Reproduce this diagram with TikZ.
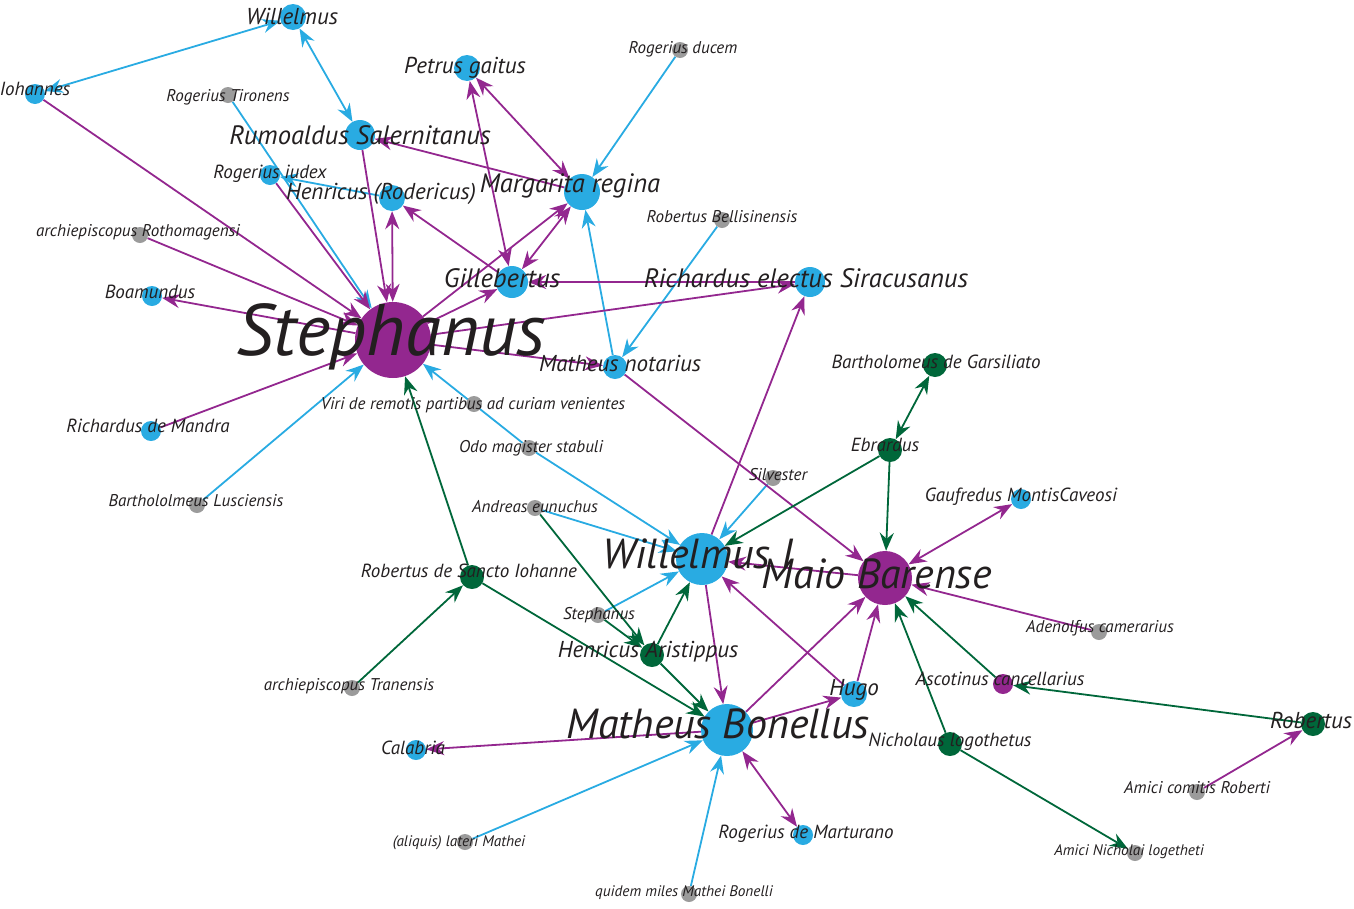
\documentclass[tikz,border=0pt]{standalone}
\usepackage{fontspec}
\setmainfont{PT Sans}
\usetikzlibrary{arrows.meta}
\definecolor{pblue}{HTML}{29ABE2}
\definecolor{ppurple}{HTML}{93278F}
\definecolor{pgreen}{HTML}{00673A}
\definecolor{pgrey}{HTML}{9B9B9B}
\definecolor{ink}{HTML}{231F20}
\pgfdeclarelayer{edges}
\pgfsetlayers{edges,main}

\begin{document}
\begin{tikzpicture}[x=1pt,y=-1pt,
	>={Stealth[length=18pt,width=14pt,inset=6pt]},
	pers/.style={circle,inner sep=0pt,minimum size=#1},
	bn/.style={pers=#1,fill=pblue},
	pn/.style={pers=#1,fill=ppurple},
	gn/.style={pers=#1,fill=pgreen},
	an/.style={pers=16pt,fill=pgrey},
	be/.style={pblue,line width=1.8pt},
	pe/.style={ppurple,line width=1.8pt},
	ge/.style={pgreen,line width=1.8pt},
	txt/.style={anchor=base,inner sep=0pt,text=ink},
	sA/.style={txt,font=\itshape\fontsize{73}{73}\selectfont},
	sB/.style={txt,font=\itshape\fontsize{42}{42}\selectfont},
	sC/.style={txt,font=\itshape\fontsize{26.6}{26.6}\selectfont},
	sD/.style={txt,font=\itshape\fontsize{23}{23}\selectfont},
	sE/.style={txt,font=\itshape\fontsize{19}{19}\selectfont},
	sF/.style={txt,font=\itshape\fontsize{17}{17}\selectfont},
	sG/.style={txt,font=\itshape\fontsize{15.3}{15.3}\selectfont}]
	\useasboundingbox (0,0) rectangle (1354,908);

	% persons
	\node[bn=26pt] (wil) at (293,17) {};
	\node[bn=20pt] (ioh) at (35,94) {};
	\node[an] (rtir) at (228,95) {};
	\node[bn=26pt] (pet) at (467,68) {};
	\node[an] (rduc) at (680,50) {};
	\node[bn=30pt] (rum) at (360,135) {};
	\node[bn=36pt] (mar) at (582,192) {};
	\node[bn=20pt] (riud) at (270,175) {};
	\node[bn=26pt] (henr) at (392,198) {};
	\node[an] (rbel) at (722,220) {};
	\node[an] (arot) at (140,235) {};
	\node[bn=32pt] (gil) at (512,282) {};
	\node[bn=30pt] (rsir) at (810,282) {};
	\node[bn=20pt] (boa) at (152,296) {};
	\node[pn=76pt] (ste) at (393,340) {};
	\node[bn=24pt] (mnot) at (615,367) {};
	\node[gn=24pt] (bgar) at (935,365) {};
	\node[an] (viri) at (474,404) {};
	\node[bn=20pt] (rman) at (151,431) {};
	\node[an] (odo) at (529,448) {};
	\node[gn=24pt] (ebr) at (890,450) {};
	\node[an] (sil) at (773,478) {};
	\node[bn=20pt] (gau) at (1021,499) {};
	\node[an] (blus) at (197,505) {};
	\node[an] (and) at (535,508) {};
	\node[bn=52pt] (wi) at (702,559) {};
	\node[pn=54pt] (mai) at (885,578) {};
	\node[gn=24pt] (rsio) at (472,577) {};
	\node[an] (stg) at (598,615) {};
	\node[an] (ade) at (1099,632) {};
	\node[gn=24pt] (hari) at (652,655) {};
	\node[an] (atra) at (352,688) {};
	\node[pn=20pt] (asc) at (1003,684) {};
	\node[bn=26pt] (hug) at (854,694) {};
	\node[gn=24pt] (rob) at (1313,724) {};
	\node[bn=52pt] (mbo) at (727,730) {};
	\node[bn=20pt] (cal) at (416,750) {};
	\node[gn=24pt] (nic) at (950,744) {};
	\node[an] (acr) at (1197,792) {};
	\node[bn=20pt] (rmar) at (803,835) {};
	\node[an] (ali) at (465,842) {};
	\node[an] (ani) at (1135,853) {};
	\node[an] (qui) at (689,894) {};

	\begin{pgfonlayer}{edges}
	\draw[be,<->] (wil) -- (ioh);
	\draw[be,<->] (wil) -- (rum);
	\draw[be,->] (rtir) -- (ste);
	\draw[be,->] (henr) -- (riud);
	\draw[be,->] (rduc) -- (mar);
	\draw[be,->] (mnot) -- (mar);
	\draw[be,->] (rbel) -- (mnot);
	\draw[be,->] (odo) -- (ste);
	\draw[be,->] (odo) -- (wi);
	\draw[be,->] (sil) -- (wi);
	\draw[be,->] (and) -- (wi);
	\draw[be,->] (stg) -- (wi);
	\draw[be,->] (blus) -- (ste);
	\draw[be,->] (ali) -- (mbo);
	\draw[be,->] (qui) -- (mbo);

	\draw[pe,->] (ioh) -- (ste);
	\draw[pe,->] (arot) -- (ste);
	\draw[pe,->] (riud) -- (ste);
	\draw[pe,->] (rum) -- (ste);
	\draw[pe,<->] (henr) -- (ste);
	\draw[pe,->] (ste) -- (boa);
	\draw[pe,->] (rman) -- (ste);
	\draw[pe,->] (ste) -- (gil);
	\draw[pe,->] (ste) -- (mar);
	\draw[pe,->] (ste) -- (rsir);
	\draw[pe,->] (ste) -- (mnot);
	\draw[pe,->] (gil) -- (henr);
	\draw[pe,<->] (pet) -- (gil);
	\draw[pe,<->] (pet) -- (mar);
	\draw[pe,->] (mar) -- (rum);
	\draw[pe,<->] (gil) -- (mar);
	\draw[pe,->] (rsir) -- (gil);
	\draw[pe,->] (mnot) -- (mai);
	\draw[pe,->] (wi) -- (rsir);
	\draw[pe,->] (mai) -- (wi);
	\draw[pe,->] (hug) -- (wi);
	\draw[pe,->] (wi) -- (mbo);
	\draw[pe,->] (mbo) -- (mai);
	\draw[pe,->] (hug) -- (mai);
	\draw[pe,->] (mbo) -- (hug);
	\draw[pe,->] (mbo) -- (cal);
	\draw[pe,<->] (mbo) -- (rmar);
	\draw[pe,<->] (gau) -- (mai);
	\draw[pe,->] (ade) -- (mai);
	\draw[pe,->] (acr) -- (rob);

	\draw[ge,->] (rsio) -- (ste);
	\draw[ge,->] (atra) -- (rsio);
	\draw[ge,->] (rsio) -- (mbo);
	\draw[ge,->] (and) -- (hari);
	\draw[ge,->] (stg) -- (hari);
	\draw[ge,->] (hari) -- (wi);
	\draw[ge,->] (hari) -- (mbo);
	\draw[ge,->] (ebr) -- (wi);
	\draw[ge,->] (ebr) -- (mai);
	\draw[ge,<->] (ebr) -- (bgar);
	\draw[ge,->] (asc) -- (mai);
	\draw[ge,->] (nic) -- (mai);
	\draw[ge,->] (nic) -- (ani);
	\draw[ge,->] (rob) -- (asc);
	\end{pgfonlayer}

	% names
	\node[sD] (wilt) at (292,24) {Willelmus};
	\node[sE] (ioht) at (35,95) {Iohannes};
	\node[sF] (rtirt) at (228,101) {Rogerius Tironens};
	\node[sD] (pett) at (465,73) {Petrus gaitus};
	\node[sF] (rduct) at (683,53) {Rogerius ducem};
	\node[sC] (rumt) at (360,144) {Rumoaldus Salernitanus};
	\node[sC] (mart) at (570,192) {Margarita regina};
	\node[sE] (riudt) at (270,178) {Rogerius iudex};
	\node[sD] (henrt) at (381,199) {Henricus (Rodericus)};
	\node[sF] (rbelt) at (722,222) {Robertus Bellisinensis};
	\node[sF] (arott) at (138,236) {archiepiscopus Rothomagensi};
	\node[sC] (gilt) at (502,287) {Gillebertus};
	\node[sC] (rsirt) at (806,287) {Richardus electus Siracusanus};
	\node[sE] (boat) at (150,298) {Boamundus};
	\node[sA] (stet) at (391,355) {Stephanus};
	\node[sD] (mnott) at (620,371) {Matheus notarius};
	\node[sE] (bgart) at (936,368) {Bartholomeus de Garsiliato};
	\node[sF] (virit) at (473,409) {Viri de remotis partibus ad curiam venientes};
	\node[sE] (rmant) at (148,432) {Richardus de Mandra};
	\node[sF] (odot) at (531,452) {Odo magister stabuli};
	\node[sE] (ebrt) at (885,451) {Ebrardus};
	\node[sF] (silt) at (778,480) {Silvester};
	\node[sE] (gaut) at (1021,501) {Gaufredus MontisCaveosi};
	\node[sF] (blust) at (196,506) {Barthololmeus Lusciensis};
	\node[sF] (andt) at (535,512) {Andreas eunuchus};
	\node[sB] (wit) at (698,568) {Willelmus I};
	\node[sB] (mait) at (877,588) {Maio Barense};
	\node[sE] (rsiot) at (469,577) {Robertus de Sancto Iohanne};
	\node[sF] (stgt) at (599,619) {Stephanus};
	\node[sF] (adet) at (1100,632) {Adenolfus camerarius};
	\node[sD] (harit) at (648,657) {Henricus Aristippus};
	\node[sF] (atrat) at (349,690) {archiepiscopus Tranensis};
	\node[sE] (asct) at (1000,685) {Ascotinus cancellarius};
	\node[sD] (hugt) at (854,695) {Hugo};
	\node[sD] (robt) at (1311,728) {Robertus};
	\node[sB] (mbot) at (718,738) {Matheus Bonellus};
	\node[sE] (calt) at (413,754) {Calabria};
	\node[sE] (nict) at (950,746) {Nicholaus logothetus};
	\node[sF] (acrt) at (1197,793) {Amici comitis Roberti};
	\node[sE] (rmart) at (806,838) {Rogerius de Marturano};
	\node[sG] (alit) at (459,846) {(aliquis) lateri Mathei};
	\node[sG] (anit) at (1129,855) {Amici Nicholai logetheti};
	\node[sG] (quit) at (684,896) {quidem miles Mathei Bonelli};
\end{tikzpicture}
\end{document}
